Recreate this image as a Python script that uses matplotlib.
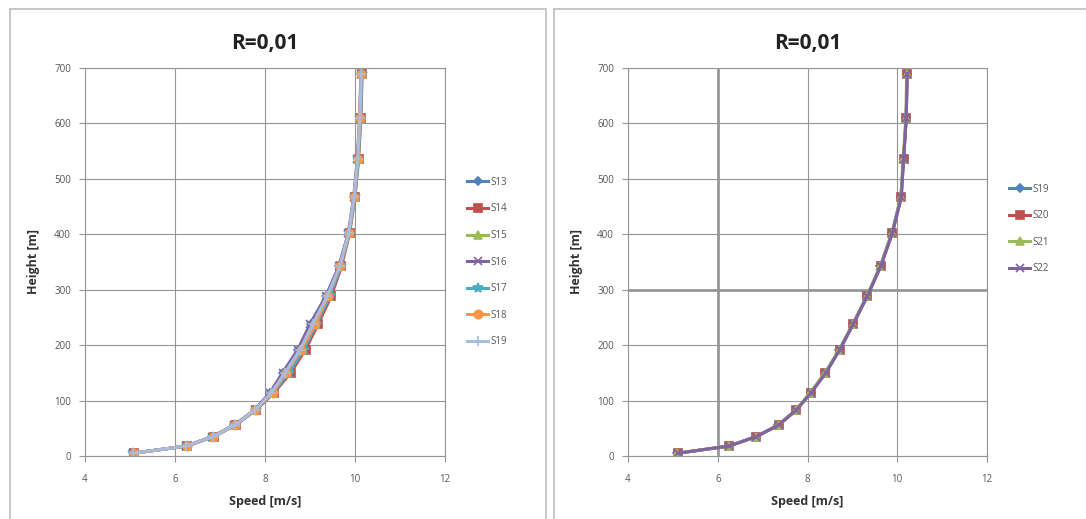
import matplotlib.pyplot as plt
from matplotlib.patches import Rectangle

plt.rcParams['font.family'] = ['Open Sans', 'DejaVu Sans']

# heights [m], same for every series
height = [5, 18, 35, 56, 83, 114, 150, 192, 238, 288, 342, 402, 467, 535, 609, 689]

# left chart, speeds [m/s]
s13 = [5.07, 6.25, 6.83, 7.32, 7.77, 8.12, 8.40, 8.74, 9.02, 9.36, 9.65, 9.86, 9.98, 10.06, 10.11, 10.14]
s14 = [5.08, 6.27, 6.86, 7.35, 7.80, 8.20, 8.57, 8.90, 9.18, 9.47, 9.70, 9.88, 10.00, 10.08, 10.13, 10.16]
s15 = [5.07, 6.26, 6.84, 7.33, 7.78, 8.15, 8.47, 8.81, 9.09, 9.41, 9.67, 9.87, 9.99, 10.07, 10.12, 10.15]
s16 = [5.06, 6.25, 6.83, 7.32, 7.77, 8.11, 8.39, 8.73, 9.00, 9.35, 9.64, 9.85, 9.97, 10.05, 10.10, 10.13]
s17 = [5.07, 6.26, 6.85, 7.34, 7.79, 8.18, 8.53, 8.86, 9.14, 9.44, 9.68, 9.87, 9.99, 10.07, 10.12, 10.15]
s18 = [5.08, 6.26, 6.84, 7.33, 7.78, 8.17, 8.46, 8.81, 9.12, 9.39, 9.67, 9.86, 9.98, 10.06, 10.10, 10.14]
s19a = [5.07, 6.25, 6.84, 7.33, 7.78, 8.14, 8.44, 8.78, 9.06, 9.38, 9.66, 9.86, 9.98, 10.06, 10.11, 10.14]

# right chart, speeds [m/s]
s19 = [5.10, 6.25, 6.85, 7.35, 7.75, 8.07, 8.40, 8.71, 9.01, 9.32, 9.62, 9.88, 10.08, 10.14, 10.20, 10.22]
s20 = [5.11, 6.26, 6.86, 7.36, 7.75, 8.07, 8.40, 8.72, 9.02, 9.33, 9.63, 9.89, 10.09, 10.14, 10.20, 10.22]
s21 = [5.10, 6.26, 6.85, 7.35, 7.74, 8.06, 8.39, 8.71, 9.01, 9.32, 9.62, 9.88, 10.08, 10.13, 10.19, 10.21]
s22 = [5.11, 6.25, 6.86, 7.36, 7.75, 8.08, 8.41, 8.72, 9.02, 9.33, 9.63, 9.89, 10.09, 10.14, 10.20, 10.22]

left_series = [('S13', s13), ('S14', s14), ('S15', s15), ('S16', s16),
               ('S17', s17), ('S18', s18), ('S19', s19a)]
right_series = [('S19', s19), ('S20', s20), ('S21', s21), ('S22', s22)]

colors = ['#4F81BD', '#C0504D', '#9BBB59', '#8064A2', '#4BACC6', '#F79646', '#A9BCDD']
markers = ['D', 's', '^', 'x', '*', 'o', '+']
msizes = [4, 6, 6, 6, 7, 6, 7]

fig = plt.figure(figsize=(10.86, 5.19), dpi=100)

# chart borders
fig.add_artist(Rectangle((10 / 1086, -0.05), 536 / 1086, 1.05 - 9 / 519,
                         transform=fig.transFigure, fill=False,
                         edgecolor='#BDBDBD', lw=1.2))
fig.add_artist(Rectangle((554 / 1086, -0.05), 540 / 1086, 1.05 - 9 / 519,
                         transform=fig.transFigure, fill=False,
                         edgecolor='#BDBDBD', lw=1.2))

ax1 = fig.add_axes([85 / 1086, 1 - 456 / 519, 360 / 1086, 388 / 519])
ax2 = fig.add_axes([628 / 1086, 1 - 456 / 519, 359 / 1086, 388 / 519])


def setup(ax):
    ax.set_xlim(4, 12)
    ax.set_ylim(0, 700)
    ax.set_xticks([4, 6, 8, 10, 12])
    ax.set_yticks(range(0, 701, 100))
    ax.grid(True, color='#959595', lw=0.8)
    ax.set_axisbelow(True)
    for sp in ax.spines.values():
        sp.set_color('#959595')
        sp.set_linewidth(0.8)
    ax.tick_params(colors='#959595', labelcolor='#555555', labelsize=7,
                   length=4, width=0.8)
    ax.tick_params(axis='x', pad=9)
    ax.tick_params(axis='y', pad=6)
    ax.set_title('R=0,01', fontsize=15, fontweight='bold', color='#222222', pad=14)
    ax.set_xlabel('Speed [m/s]', fontsize=9, fontweight='bold', color='#333333', labelpad=7)
    ax.set_ylabel('Height [m]', fontsize=9, fontweight='bold', color='#333333', labelpad=10)


setup(ax1)
setup(ax2)

for i, (name, sp) in enumerate(left_series):
    ax1.plot(sp, height, color=colors[i], marker=markers[i], ms=msizes[i],
             lw=2.2, label=name, mew=1.2)

for i, (name, sp) in enumerate(right_series):
    ax2.plot(sp, height, color=colors[i], marker=markers[i], ms=msizes[i],
             lw=2.2, label=name, mew=1.2)

# heavier grid lines seen in the right chart
ax2.axvline(6, color='#9A9A9A', lw=2, zorder=0.5)
ax2.axhline(300, color='#9A9A9A', lw=2, zorder=0.5)

for ax, yc in [(ax1, 0.5), (ax2, 0.585)]:
    leg = ax.legend(loc='center left', bbox_to_anchor=(1.05, yc), frameon=False,
                    fontsize=7, handlelength=2.2, labelspacing=1.6,
                    handletextpad=0.2, borderaxespad=0)
    for t in leg.get_texts():
        t.set_color('#555555')

fig.savefig('out.png', dpi=100)
